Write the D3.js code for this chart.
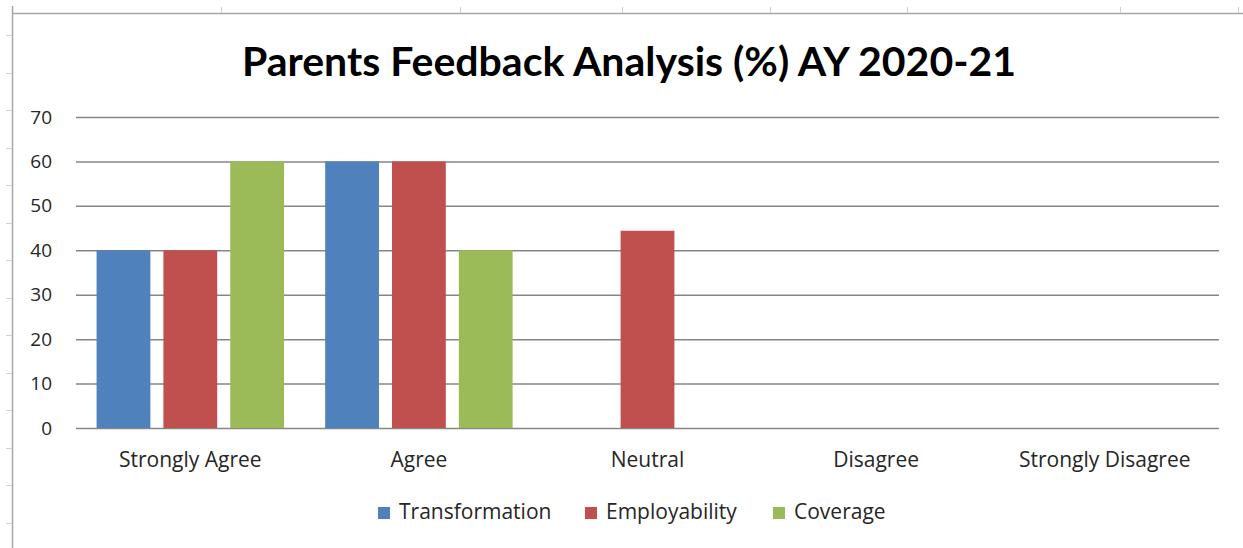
<!DOCTYPE html>
<html>
<head>
<meta charset="utf-8">
<script src="https://cdn.jsdelivr.net/npm/d3@7"></script>
<style>
  html, body { margin: 0; padding: 0; background: #fff; }
  svg { display: block; font-family: "Open Sans", sans-serif; }
</style>
</head>
<body>
<div id="chart"></div>
<script>
// podaci grafa
const categories = ['Strongly Agree', 'Agree', 'Neutral', 'Disagree', 'Strongly Disagree'];
const seriesNames = ['Transformation', 'Employability', 'Coverage'];
const transformation = [40, 60, 0, 0, 0];
const employability  = [40, 60, 44.4, 0, 0];
const coverage       = [60, 40, 0, 0, 0];
const yTicks = [0, 10, 20, 30, 40, 50, 60, 70];
const colors = ['#4F81BD', '#C0504D', '#9BBB59'];

const W = 1243, H = 548;
const m = { top: 117, right: 24, bottom: 120, left: 76 };

const svg = d3.select('#chart').append('svg').attr('width', W).attr('height', H);

// okvir tablice (rubovi ćelija iz Excela)
const frame = svg.append('g').attr('stroke', '#a6a6a6');
frame.append('line').attr('x1', 12).attr('y1', 13.5).attr('x2', W).attr('y2', 13.5).attr('stroke-width', 1.5);
frame.append('line').attr('x1', 12.5).attr('y1', 6).attr('x2', 12.5).attr('y2', H).attr('stroke-width', 1.5);
[221, 460, 622, 770, 907, 1120, 1238].forEach(x =>
  frame.append('line').attr('x1', x + .5).attr('y1', 7).attr('x2', x + .5).attr('y2', 13).attr('stroke', '#d0d0d0'));
d3.range(35, H, 37.5).forEach(y =>
  frame.append('line').attr('x1', 6).attr('y1', Math.round(y) + .5).attr('x2', 12).attr('y2', Math.round(y) + .5).attr('stroke', '#d0d0d0'));

// naslov
svg.append('text').attr('x', 629).attr('y', 76).attr('text-anchor', 'middle')
  .attr('font-size', 41).attr('font-weight', 700).attr('fill', '#000').attr('font-family', 'Lato')
  .text('Parents Feedback Analysis (%) AY 2020-21');

const x0 = d3.scaleBand().domain(categories).range([m.left, W - m.right])
  .paddingInner(0.18).paddingOuter(0.09);
const x1 = d3.scaleBand().domain(seriesNames).range([0, x0.bandwidth()]).paddingInner(0.195);
const y = d3.scaleLinear().domain([0, 70]).range([H - 120, m.top]);

// mreža + y os
const yAx = svg.append('g').attr('transform', `translate(${m.left},0)`)
  .call(d3.axisLeft(y).tickValues(yTicks).tickSize(-(W - m.right - m.left)).tickPadding(24));
yAx.select('.domain').remove();
yAx.selectAll('.tick line').attr('stroke', '#868686').attr('stroke-width', 1.5);
yAx.selectAll('.tick text').attr('font-size', 19).attr('fill', '#262626').attr('font-family', 'Open Sans');

// stupci
const series = [transformation, employability, coverage];
const g = svg.append('g');
series.forEach((vals, si) => {
  g.selectAll(null).data(vals.map((v, i) => ({ cat: categories[i], v })).filter(d => d.v > 0))
    .enter().append('rect')
    .attr('x', d => x0(d.cat) + x1(seriesNames[si]))
    .attr('y', d => y(d.v))
    .attr('width', x1.bandwidth())
    .attr('height', d => y(0) - y(d.v))
    .attr('fill', colors[si]);
});

// x os - samo oznake
const xAx = svg.append('g').attr('transform', `translate(0,${y(0)})`)
  .call(d3.axisBottom(x0).tickSize(0).tickPadding(24));
xAx.select('.domain').remove();
xAx.selectAll('.tick text').attr('font-size', 21).attr('fill', '#262626').attr('font-family', 'Open Sans');

// legenda
const legX = [378, 585, 773];
const lg = svg.append('g').attr('transform', 'translate(0,513)');
seriesNames.forEach((s, i) => {
  lg.append('rect').attr('x', legX[i]).attr('y', -6).attr('width', 12).attr('height', 12).attr('fill', colors[i]);
  lg.append('text').attr('x', legX[i] + 21).attr('y', 0).attr('dominant-baseline', 'middle')
    .attr('font-size', 21).attr('fill', '#262626').text(s);
});
</script>
</body>
</html>
